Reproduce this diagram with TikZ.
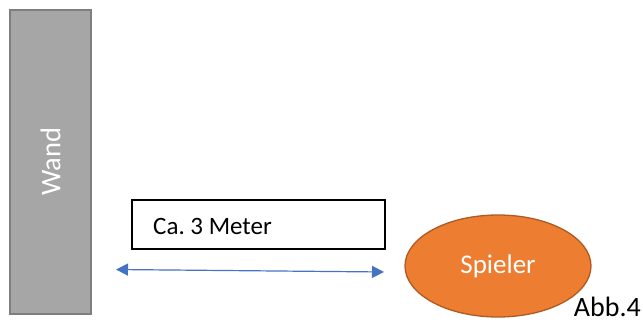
\documentclass[tikz,border=0pt]{standalone}
\usepackage{fontspec}
\setmainfont{Carlito}
\usetikzlibrary{arrows.meta,shapes.geometric}
\definecolor{wallfill}{HTML}{A6A6A6}
\definecolor{walledge}{HTML}{7F7F7F}
\definecolor{arrowblue}{HTML}{4472C4}
\definecolor{playerfill}{HTML}{ED7D31}
\definecolor{playeredge}{HTML}{AE5A21}
\tikzset{
  wallbox/.style={draw=walledge, fill=wallfill, line width=1.5pt, inner sep=0pt},
  labelbox/.style={draw=black, fill=white, line width=1.3pt, inner sep=0pt},
  player/.style={ellipse, draw=playeredge, fill=playerfill, line width=1.3pt, inner sep=0pt},
  distarrow/.style={draw=arrowblue, line width=1.2pt, {Triangle[length=12pt,width=12pt]}-{Triangle[length=12pt,width=12pt]}}
}
\frenchspacing
\begin{document}
\begin{tikzpicture}[x=1pt,y=-1pt]
  \useasboundingbox (0,0) rectangle (643,326);
  % wall
  \node[wallbox, minimum width=81pt, minimum height=304pt] (wall) at (50.5,162) {};
  \node[rotate=90, text=white, font=\fontsize{28.5}{32}\selectfont] (wandtxt) at (wall.center) {Wand};
  % distance label
  \node[labelbox, minimum width=253pt, minimum height=49pt] (label) at (258.5,224.5) {};
  \node[anchor=west, font=\fontsize{25}{30}\selectfont, inner sep=0pt] (labeltxt) at (153,226) {Ca. 3 Meter};
  % distance arrow
  \coordinate (aleft) at (116,269.5);
  \coordinate (aright) at (384,272);
  \draw[distarrow] (aleft) -- (aright);
  % player
  \node[player, minimum width=186pt, minimum height=102pt] (player) at (498,266) {};
  \node[text=white, font=\fontsize{27}{32}\selectfont] (playertxt) at (player.center) {Spieler};
  % figure number
  \node[anchor=base east, font=\fontsize{28}{32}\selectfont, inner sep=0pt] (abb) at (641,316) {Abb.4};
\end{tikzpicture}
\end{document}
